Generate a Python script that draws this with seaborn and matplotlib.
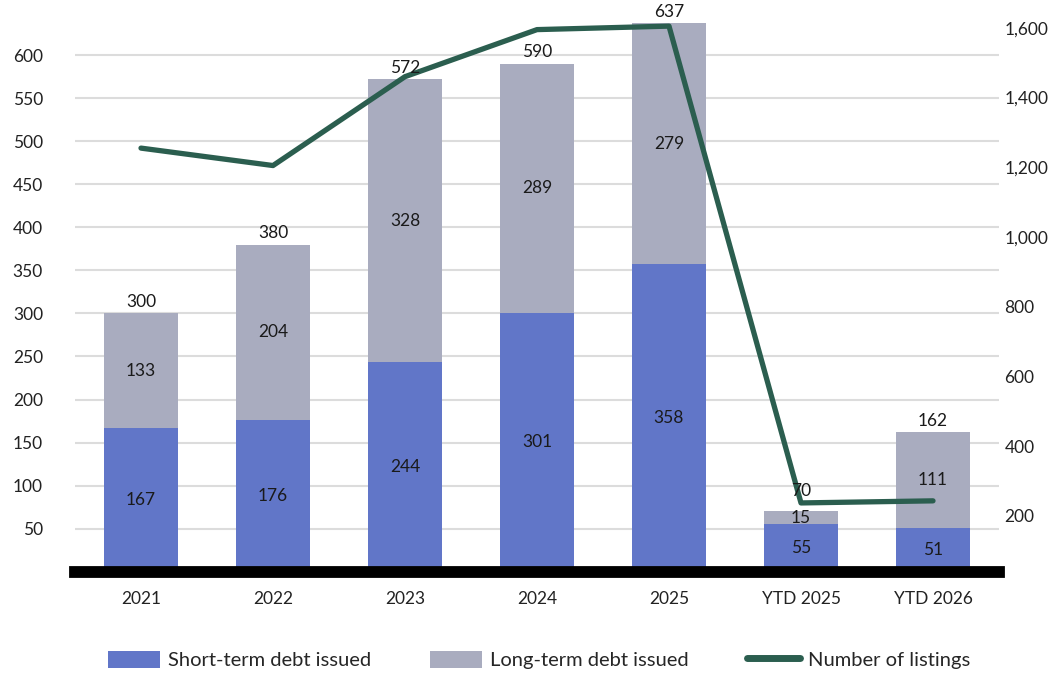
import numpy as np
import pandas as pd
import matplotlib
matplotlib.use("Agg")
import matplotlib.pyplot as plt
import seaborn as sns
from matplotlib.patches import Patch
from matplotlib.lines import Line2D

categories = ["2021", "2022", "2023", "2024", "2025", "YTD 2025", "YTD 2026"]
short_term = [167, 176, 244, 301, 358, 55, 51]
long_term = [133, 204, 328, 289, 279, 15, 111]
listings = [1255, 1205, 1460, 1595, 1605, 237, 243]
left_ticks = [50, 100, 150, 200, 250, 300, 350, 400, 450, 500, 550, 600]
right_ticks = [200, 400, 600, 800, 1000, 1200, 1400, 1600]

BLUE = "#6176c8"
GRAY = "#a9acbf"
GREEN = "#2b5e4f"

sns.set_theme(style="white")
plt.rcParams["font.family"] = ["Lato", "DejaVu Sans"]

totals = [s + l for s, l in zip(short_term, long_term)]
df = pd.DataFrame({"cat": categories, "short": short_term, "long": long_term, "total": totals})

fig = plt.figure(figsize=(10.61, 6.73), dpi=100)
ax = fig.add_axes([75 / 1061, 101.4 / 673, 924 / 1061, 563.6 / 673])

sns.barplot(data=df, x="cat", y="total", color=GRAY, width=0.56, saturation=1, ax=ax,
            linewidth=0, edgecolor="none", zorder=2)
sns.barplot(data=df, x="cat", y="short", color=BLUE, width=0.56, saturation=1, ax=ax,
            linewidth=0, edgecolor="none", zorder=3)

ax.set_ylim(0, 655)
ax.set_yticks(left_ticks)
ax.set_yticklabels([str(t) for t in left_ticks], fontsize=12.5, color="#222222")
ax.yaxis.grid(True, color="#dcdcdc", linewidth=1.5, zorder=0)
ax.set_axisbelow(True)
ax.set_xlabel("")
ax.set_ylabel("")
for s in ["top", "right", "left"]:
    ax.spines[s].set_visible(False)
ax.spines["bottom"].set_color("black")
ax.spines["bottom"].set_linewidth(8.5)
ax.spines["bottom"].set_zorder(6)
ax.tick_params(axis="y", length=0, pad=23)
ax.tick_params(axis="x", length=0, pad=14, labelsize=12.5, labelcolor="#222222")
ax.set_xlim(-0.5, len(categories) - 0.5)

ax2 = ax.twinx()
sns.lineplot(x=np.arange(len(categories)), y=listings, color=GREEN, linewidth=3.8, ax=ax2,
             solid_capstyle="round", zorder=5)
ax2.set_ylim(40, 1657)
ax2.set_yticks(right_ticks)
ax2.set_yticklabels([f"{t:,}" for t in right_ticks], fontsize=12.5, color="#222222")
ax2.tick_params(axis="y", length=0, pad=4)
for s in ["top", "right", "left", "bottom"]:
    ax2.spines[s].set_visible(False)
ax2.set_ylabel("")
ax2.grid(False)
ax2.patch.set_visible(False)

# data labels (drawn on top of the line, in the bar axis' data coordinates)
for i, (s, l, t) in enumerate(zip(short_term, long_term, totals)):
    ax2.text(i, s / 2, str(s), ha="center", va="center", fontsize=12.5, color="#1a1a1a",
             zorder=7, transform=ax.transData)
    ax2.text(i, s + l / 2, str(l), ha="center", va="center", fontsize=12.5, color="#1a1a1a",
             zorder=7, transform=ax.transData)
    gap = 4 if l >= 30 else 14
    ax2.text(i, t + gap, str(t), ha="center", va="bottom", fontsize=12.5, color="#1a1a1a",
             zorder=7, clip_on=False, transform=ax.transData)

handles = [Patch(facecolor=BLUE, edgecolor="none"),
           Patch(facecolor=GRAY, edgecolor="none"),
           Line2D([0], [0], color=GREEN, linewidth=5)]
labels = ["Short-term debt issued", "Long-term debt issued", "Number of listings"]
fig.legend(handles, labels, loc="center", bbox_to_anchor=(0.508, 1 - 660 / 673), ncol=3,
           frameon=False, fontsize=14.5, handlelength=2.6, handleheight=0.9,
           columnspacing=2.9, handletextpad=0.4, bbox_transform=fig.transFigure)

fig.savefig("out.png", dpi=100)
